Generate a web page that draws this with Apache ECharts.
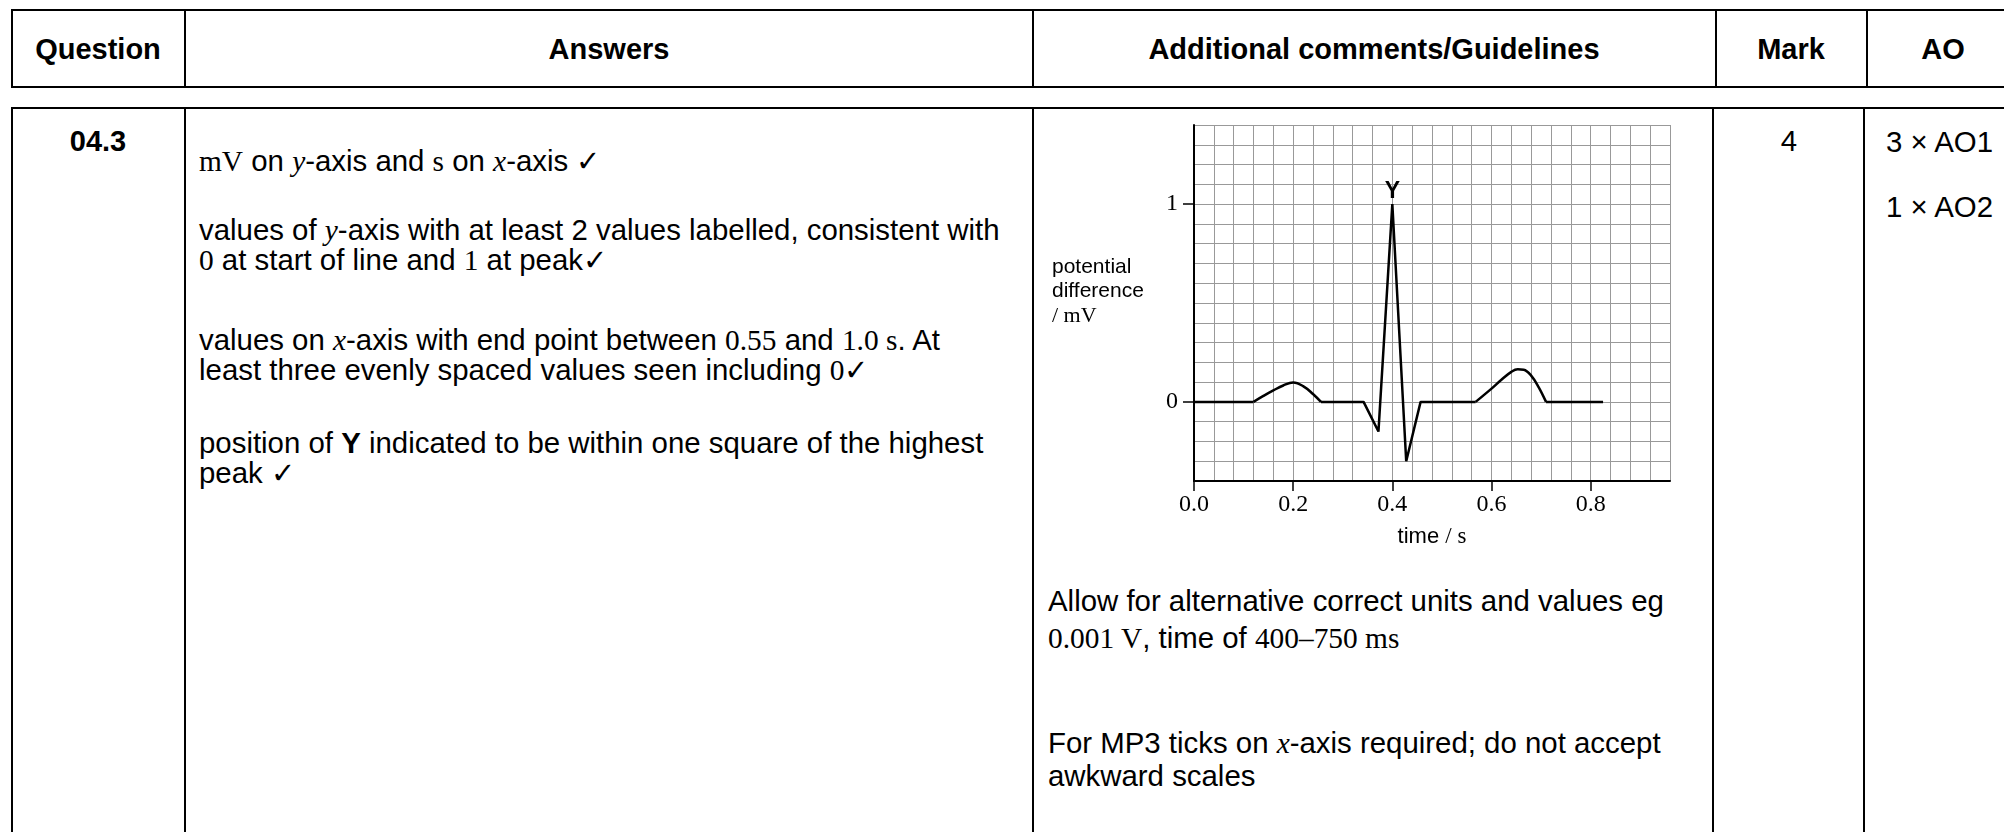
<!DOCTYPE html>
<html>
<head>
<meta charset="utf-8">
<script src="https://cdn.jsdelivr.net/npm/echarts@6/dist/echarts.min.js"></script>
<style>
  body { margin: 0; width: 2004px; height: 832px; overflow: hidden; background: #fff; color: #000;
         font-family: "Liberation Sans", Arial, sans-serif; position: relative; }
  .box { position: absolute; border: 2px solid #000; box-sizing: border-box; }
  .vline { position: absolute; width: 2px; background: #000; }
  .hd { position: absolute; font-weight: bold; font-size: 29px; line-height: 30px; white-space: nowrap; transform: translateX(-50%); }
  .tx { position: absolute; font-size: 29.4px; line-height: 30px; white-space: nowrap; }
  .tm { font-family: "Liberation Serif", "Times New Roman", serif; }
  .it { font-family: "Liberation Serif", "Times New Roman", serif; font-style: italic; }
  #ecg { position: absolute; left: 1040px; top: 110px; width: 650px; height: 460px; }
</style>
</head>
<body>
  <!-- header row -->
  <div class="box" style="left:11px; top:9px; width:2010px; height:79px;"></div>
  <div class="vline" style="left:184px; top:9px; height:79px;"></div>
  <div class="vline" style="left:1032px; top:9px; height:79px;"></div>
  <div class="vline" style="left:1715px; top:9px; height:79px;"></div>
  <div class="vline" style="left:1866px; top:9px; height:79px;"></div>
  <div class="hd" style="left:98px; top:34px;">Question</div>
  <div class="hd" style="left:609px; top:34px;">Answers</div>
  <div class="hd" style="left:1374px; top:34px;">Additional comments/Guidelines</div>
  <div class="hd" style="left:1791px; top:34px;">Mark</div>
  <div class="hd" style="left:1943px; top:34px;">AO</div>

  <!-- body row -->
  <div class="box" style="left:11px; top:107px; width:2010px; height:760px;"></div>
  <div class="vline" style="left:184px; top:107px; height:730px;"></div>
  <div class="vline" style="left:1032px; top:107px; height:730px;"></div>
  <div class="vline" style="left:1712px; top:107px; height:730px;"></div>
  <div class="vline" style="left:1863px; top:107px; height:730px;"></div>

  <div class="hd" style="left:98px; top:126px;">04.3</div>

  <div class="tx" style="left:199px; top:146px;"><span class="tm">mV</span> on <span class="it">y</span>-axis and <span class="tm">s</span> on <span class="it">x</span>-axis ✓</div>
  <div class="tx" style="left:199px; top:215px;">values of <span class="it">y</span>-axis with at least 2 values labelled, consistent with<br><span class="tm">0</span> at start of line and <span class="tm">1</span> at peak✓</div>
  <div class="tx" style="left:199px; top:325px;">values on <span class="it">x</span>-axis with end point between <span class="tm">0.55</span> and <span class="tm">1.0 s</span>. At<br>least three evenly spaced values seen including <span class="tm">0</span>✓</div>
  <div class="tx" style="left:199px; top:428px;">position of <b>Y</b> indicated to be within one square of the highest<br>peak ✓</div>

  <div id="ecg"></div>

  <div class="tx" style="left:1048px; top:586px;">Allow for alternative correct units and values eg</div>
  <div class="tx" style="left:1048px; top:623px;"><span class="tm">0.001 V</span>, time of <span class="tm">400–750 ms</span></div>
  <div class="tx" style="left:1048px; top:728px;">For MP3 ticks on <span class="it">x</span>-axis required; do not accept</div>
  <div class="tx" style="left:1048px; top:761px;">awkward scales</div>

  <div class="tx" style="left:1789px; top:126px; transform:translateX(-50%);">4</div>
  <div class="tx" style="left:1886px; top:127px;">3 × AO1</div>
  <div class="tx" style="left:1886px; top:192px;">1 × AO2</div>

<script>
// 时间 (s) 与电势差 (mV) 读数
const timeTicks = [0, 0.2, 0.4, 0.6, 0.8]
const voltTicks = [0, 1]
const flatStart = [[0, 0], [0.12, 0]]
const pWave = [[0.12, 0], [0.14, 0.03], [0.16, 0.058], [0.18, 0.083], [0.2, 0.098], [0.22, 0.08], [0.24, 0.04], [0.256, 0]]
const qrsComplex = [[0.256, 0], [0.342, 0], [0.372, -0.15], [0.4, 1.0], [0.428, -0.3], [0.457, 0], [0.568, 0]]
const tWave = [[0.568, 0], [0.6, 0.067], [0.62, 0.112], [0.64, 0.152], [0.653, 0.165], [0.665, 0.163], [0.68, 0.133], [0.695, 0.075], [0.71, 0]]
const flatEnd = [[0.71, 0], [0.825, 0]]
const peakName = 'Y'

const chartInstance = echarts.init(document.getElementById('ecg'))

const isTick = (v, list) => list.some(t => Math.abs(t - v) < 1e-6)
const peakValue = Math.max(...qrsComplex.map(p => p[1]))

const gridLine = { show: true, lineStyle: { color: '#999', width: 1 } }
const serifLabel = { fontFamily: 'Liberation Serif', fontSize: 24, color: '#000' }

const lineBase = {
  type: 'line',
  xAxisIndex: 1,
  yAxisIndex: 1,
  symbol: 'none',
  lineStyle: { color: '#000', width: 2.5 },
  z: 5
}

const option = {
  animation: false,
  grid: { left: 154, top: 15, width: 476, height: 356 },
  xAxis: [
    // 方格线用的轴
    {
      type: 'value', position: 'top', min: 0, max: 0.96, interval: 0.04,
      axisLine: { show: false }, axisTick: { show: false }, axisLabel: { show: false },
      splitLine: gridLine
    },
    // 刻度和文字用的轴
    {
      type: 'value', position: 'bottom', min: 0, max: 0.96, interval: 0.04,
      axisLine: { show: true, onZero: false, lineStyle: { color: '#000', width: 2 } },
      axisTick: { show: true, customValues: timeTicks, length: 10, lineStyle: { color: '#000', width: 1.5 } },
      axisLabel: {
        ...serifLabel,
        customValues: timeTicks,
        formatter: v => (isTick(v, timeTicks) ? v.toFixed(1) : ''),
        margin: 12
      },
      splitLine: { show: false },
      name: '{a|time }{b|/ s}',
      nameLocation: 'middle',
      nameGap: 44,
      nameTextStyle: {
        rich: {
          a: { fontFamily: 'Liberation Sans', fontSize: 22, color: '#000' },
          b: { fontFamily: 'Liberation Serif', fontSize: 23, color: '#000' }
        }
      }
    }
  ],
  yAxis: [
    {
      type: 'value', position: 'right', min: -0.4, max: 1.4, interval: 0.1,
      axisLine: { show: false }, axisTick: { show: false }, axisLabel: { show: false },
      splitLine: gridLine
    },
    {
      type: 'value', position: 'left', min: -0.4, max: 1.4, interval: 0.1,
      axisLine: { show: true, onZero: false, lineStyle: { color: '#000', width: 2 } },
      axisTick: { show: true, customValues: voltTicks, length: 11, lineStyle: { color: '#000', width: 1.5 } },
      axisLabel: {
        ...serifLabel,
        customValues: voltTicks,
        formatter: v => (isTick(v, voltTicks) ? String(Math.round(v)) : ''),
        margin: 16
      },
      splitLine: { show: false },
      name: '{a|potential}\n{a|difference}\n{b|/ mV}',
      nameLocation: 'middle',
      nameRotate: 0,
      nameGap: 142,
      nameTextStyle: {
        align: 'left',
        verticalAlign: 'middle',
        padding: [0, 0, 22, 0],
        rich: {
          a: { fontFamily: 'Liberation Sans', fontSize: 21, lineHeight: 24, color: '#000' },
          b: { fontFamily: 'Liberation Serif', fontSize: 22, lineHeight: 26, color: '#000' }
        }
      }
    }
  ],
  series: [
    { ...lineBase, data: flatStart },
    { ...lineBase, data: pWave, smooth: 0.4 },
    {
      ...lineBase,
      symbol: 'circle',
      symbolSize: 0,
      showSymbol: true,
      itemStyle: { color: '#000' },
      data: qrsComplex.map(p => (p[1] === peakValue
        ? { value: p, label: { show: true, position: 'top', distance: 1, formatter: peakName, fontFamily: 'Liberation Sans', fontWeight: 'bold', fontSize: 23, color: '#000' } }
        : p))
    },
    { ...lineBase, data: tWave, smooth: 0.4 },
    { ...lineBase, data: flatEnd }
  ]
}
chartInstance.setOption(option)
</script>
</body>
</html>
